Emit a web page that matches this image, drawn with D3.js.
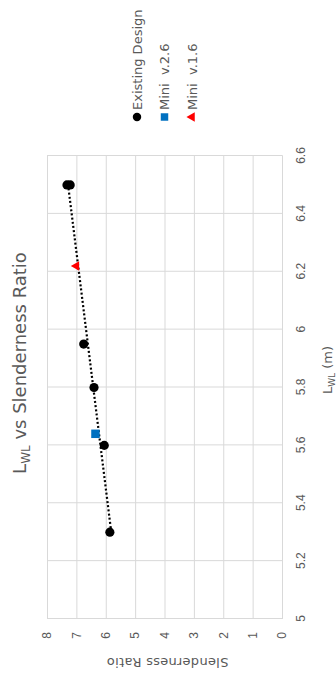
<!DOCTYPE html>
<html>
<head>
<meta charset="utf-8">
<script src="https://cdn.jsdelivr.net/npm/d3@7"></script>
<style>
  html, body { margin: 0; padding: 0; background: #fff; }
  svg { display: block; font-family: "DejaVu Sans", sans-serif; }
</style>
</head>
<body>
<svg id="chart" width="336" height="675"></svg>
<script>
// L_WL (m) of each existing design and its slenderness ratio
const existingLwl = [5.3, 5.6, 5.8, 5.95, 6.5, 6.5];
const existingRatio = [5.86, 6.05, 6.40, 6.75, 7.32, 7.21];
// Mini versions
const miniV26Lwl = [5.64];
const miniV26Ratio = [6.35];
const miniV16Lwl = [6.22];
const miniV16Ratio = [7.0];

const xTicks = [5, 5.2, 5.4, 5.6, 5.8, 6, 6.2, 6.4, 6.6];
const xTickLabels = ["5", "5.2", "5.4", "5.6", "5.8", "6", "6.2", "6.4", "6.6"];
const yTicks = [0, 1, 2, 3, 4, 5, 6, 7, 8];
const yTickLabels = ["0", "1", "2", "3", "4", "5", "6", "7", "8"];

const legendItems = [
  { name: "Existing Design", shape: d3.symbolCircle, color: "#000000" },
  { name: "Mini  v.2.6", shape: d3.symbolSquare, color: "#0070C0" },
  { name: "Mini  v.1.6", shape: d3.symbolTriangle, color: "#FF0000" }
];

// The chart is laid out landscape (W x H) and turned a quarter-turn
// counter-clockwise into the portrait page.
const W = 675, H = 336;
const svg = d3.select("#chart");
const root = svg.append("g").attr("transform", `translate(0,${W}) rotate(-90)`);

const plot = { left: 56, right: 519, top: 47, bottom: 282 };
const x = d3.scaleLinear().domain([5, 6.6]).range([plot.left, plot.right]);
const y = d3.scaleLinear().domain([0, 8]).range([plot.bottom, plot.top]);

const gridColor = "#d9d9d9";
const textColor = "#595959";

// Vertical gridlines + x tick labels
const xAxis = root.append("g")
  .attr("transform", `translate(0,${plot.bottom})`)
  .call(d3.axisBottom(x).tickValues(xTicks)
    .tickFormat((d, i) => xTickLabels[i])
    .tickSize(-(plot.bottom - plot.top)).tickPadding(14));
xAxis.select(".domain").attr("stroke", gridColor).attr("stroke-width", 1);
xAxis.selectAll(".tick line").attr("stroke", gridColor).attr("stroke-width", 1);
xAxis.selectAll(".tick text").attr("fill", textColor)
  .style("font-size", "12px").style("font-family", "inherit");

// Horizontal gridlines + y tick labels
const yAxis = root.append("g")
  .attr("transform", `translate(${plot.left},0)`)
  .call(d3.axisLeft(y).tickValues(yTicks)
    .tickFormat((d, i) => yTickLabels[i])
    .tickSize(-(plot.right - plot.left)).tickPadding(13));
yAxis.select(".domain").attr("stroke", gridColor).attr("stroke-width", 1);
yAxis.selectAll(".tick line").attr("stroke", gridColor).attr("stroke-width", 1);
yAxis.selectAll(".tick text").attr("fill", textColor)
  .style("font-size", "12px").style("font-family", "inherit");

// Linear trendline through the existing designs
const n = existingLwl.length;
const mx = d3.mean(existingLwl), my = d3.mean(existingRatio);
let sxy = 0, sxx = 0;
for (let i = 0; i < n; i++) {
  sxy += (existingLwl[i] - mx) * (existingRatio[i] - my);
  sxx += (existingLwl[i] - mx) ** 2;
}
const slope = sxy / sxx, intercept = my - slope * mx;
const [x0, x1] = d3.extent(existingLwl);
root.append("line")
  .attr("x1", x(x0)).attr("y1", y(intercept + slope * x0))
  .attr("x2", x(x1)).attr("y2", y(intercept + slope * x1))
  .attr("stroke", "#000").attr("stroke-width", 2.2)
  .attr("stroke-dasharray", "2,2.2");

// Markers
function drawSeries(xs, ys, shape, size, color) {
  root.append("g").selectAll("path")
    .data(xs.map((v, i) => [v, ys[i]]))
    .join("path")
    .attr("transform", d => `translate(${x(d[0])},${y(d[1])})`)
    .attr("d", d3.symbol().type(shape).size(size))
    .attr("fill", color);
}
drawSeries(existingLwl, existingRatio, d3.symbolCircle, 66, "#000");
drawSeries(miniV26Lwl, miniV26Ratio, d3.symbolSquare, 72, "#0070C0");
drawSeries(miniV16Lwl, miniV16Ratio, d3.symbolTriangle, 40, "#FF0000");

// Title
const title = root.append("text")
  .attr("x", 312).attr("y", 26)
  .attr("text-anchor", "middle")
  .attr("fill", textColor)
  .style("font-size", "18px");
title.append("tspan").text("L");
title.append("tspan").attr("dy", 4).style("font-size", "12px").text("WL");
title.append("tspan").attr("dy", -4).text(" vs Slenderness Ratio");

// Axis titles
const xTitle = root.append("text")
  .attr("x", 305).attr("y", 332)
  .attr("text-anchor", "middle")
  .attr("fill", textColor)
  .style("font-size", "13px");
xTitle.append("tspan").text("L");
xTitle.append("tspan").attr("dy", 3).style("font-size", "9px").text("WL");
xTitle.append("tspan").attr("dy", -3).text(" (m)");

root.append("text")
  .attr("transform", `translate(17,${(plot.top + plot.bottom) / 2 + 3}) rotate(-90)`)
  .attr("text-anchor", "middle")
  .attr("fill", textColor)
  .style("font-size", "13px")
  .style("letter-spacing", "0.3px")
  .text("Slenderness Ratio");

// Legend
const legend = root.append("g");
const rows = legend.selectAll("g").data(legendItems).join("g")
  .attr("transform", (d, i) => `translate(558,${137 + i * 27.5})`);
rows.append("path")
  .attr("d", d => d3.symbol().type(d.shape).size(d.shape === d3.symbolTriangle ? 40 : 56)())
  .attr("fill", d => d.color);
rows.append("text")
  .attr("x", 7).attr("dy", "0.35em")
  .attr("fill", textColor)
  .style("font-size", "13px")
  .style("white-space", "pre")
  .text(d => d.name);
</script>
</body>
</html>
